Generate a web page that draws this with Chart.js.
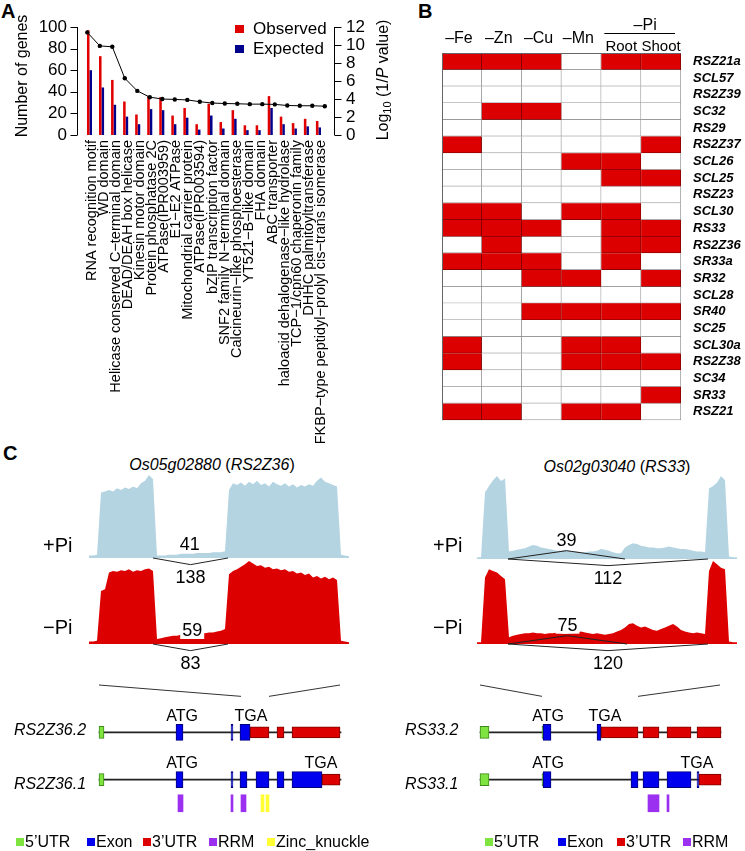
<!DOCTYPE html>
<html lang="en">
<head>
<meta charset="utf-8">
<title>SR genes</title>
<script src="https://cdn.jsdelivr.net/npm/chart.js@4.4.1/dist/chart.umd.min.js"></script>
<style>
  html, body { margin: 0; padding: 0; background: #fff; }
  #figura { position: relative; width: 745px; height: 851px; overflow: hidden;
            font-family: "Liberation Sans", Arial, sans-serif; color: #000; }
  #figura canvas, #figura .txt { position: absolute; }
  .txt { white-space: nowrap; line-height: 1; }
  .letra { font-weight: bold; font-size: 20px; }
  .titulo { font-size: 16px; text-align: center; width: 240px; }
  .cond { font-size: 20px; }
  .iso { font-size: 16px; font-style: italic; }
  .leg { font-size: 16px; }
  .leg b { display: inline-block; width: 8px; height: 8px; margin-right: 1px; vertical-align: 1px; }
</style>
</head>
<body>
<div id="figura">
  <div class="txt letra" style="left:1px;top:1px">A</div>
  <div class="txt letra" style="left:418px;top:1px">B</div>
  <div class="txt letra" style="left:3px;top:443px">C</div>

  <canvas id="chart-a" width="400" height="450" style="left:0;top:0"></canvas>
  <canvas id="chart-b" width="325" height="440" style="left:420px;top:0"></canvas>

  <div class="txt titulo" style="left:92px;top:457px"><i>Os05g02880</i> (<i>RS2Z36</i>)</div>
  <div class="txt titulo" style="left:497px;top:459px"><i>Os02g03040</i> (<i>RS33</i>)</div>

  <canvas id="trilha-rs2z36-mais" width="260" height="124" style="left:89px;top:466px"></canvas>
  <canvas id="trilha-rs2z36-menos" width="260" height="122" style="left:89px;top:550px"></canvas>
  <canvas id="trilha-rs33-mais" width="260" height="124" style="left:477px;top:466px"></canvas>
  <canvas id="trilha-rs33-menos" width="260" height="122" style="left:477px;top:550px"></canvas>

  <div class="txt cond" style="left:43px;top:535px">+Pi</div>
  <div class="txt cond" style="left:43px;top:617px">−Pi</div>
  <div class="txt cond" style="left:433px;top:535px">+Pi</div>
  <div class="txt cond" style="left:433px;top:617px">−Pi</div>

  <canvas id="modelo-rs2z36" width="370" height="173" style="left:0;top:660px"></canvas>
  <canvas id="modelo-rs33" width="375" height="173" style="left:370px;top:660px"></canvas>

  <div class="txt iso" style="left:14px;top:722px">RS2Z36.2</div>
  <div class="txt iso" style="left:14px;top:776px">RS2Z36.1</div>
  <div class="txt iso" style="left:405px;top:722px">RS33.2</div>
  <div class="txt iso" style="left:405px;top:776px">RS33.1</div>

  <div class="txt leg" style="left:16px;top:834px"><b style="background:#7FE340"></b>5’UTR</div>
  <div class="txt leg" style="left:87px;top:834px"><b style="background:#0000EE"></b>Exon</div>
  <div class="txt leg" style="left:143px;top:834px"><b style="background:#DD0000"></b>3’UTR</div>
  <div class="txt leg" style="left:209px;top:834px"><b style="background:#9B30F0"></b>RRM</div>
  <div class="txt leg" style="left:267px;top:834px"><b style="background:#FFFF33"></b>Zinc_knuckle</div>

  <div class="txt leg" style="left:485px;top:834px"><b style="background:#7FE340"></b>5’UTR</div>
  <div class="txt leg" style="left:558px;top:834px"><b style="background:#0000EE"></b>Exon</div>
  <div class="txt leg" style="left:617px;top:834px"><b style="background:#DD0000"></b>3’UTR</div>
  <div class="txt leg" style="left:683px;top:834px"><b style="background:#9B30F0"></b>RRM</div>
</div>

<script>
// ---------- A: domínios enriquecidos ----------
const categorias = [
  'RNA recognition motif', 'WD domain', 'Helicase conserved C−terminal domain',
  'DEAD/DEAH box helicase', 'Kinesin motor domain', 'Protein phosphatase 2C',
  'ATPase(IPR003959)', 'E1−E2 ATPase', 'Mitochondrial carrier protein',
  'ATPase(IPR003594)', 'bZIP transcription factor', 'SNF2 family N−terminal domain',
  'Calcineurin−like phosphoesterase', 'YT521−B−like domain', 'FHA domain',
  'ABC transporter', 'haloacid dehalogenase−like hydrolase', 'TCP−1/cpn60 chaperonin family',
  'DHHC palmitoyltransferase', 'FKBP−type peptidyl−prolyl cis−trans isomerase'
];
const observados = [97, 73, 51, 31, 19, 36, 35, 18, 25, 10, 29, 12, 23, 9, 9, 36, 17, 11, 15, 13];
const esperados  = [60, 44, 28, 17, 10, 24, 23, 10, 16, 5, 18, 6, 15, 4.5, 4.5, 25, 10, 6, 8, 7];
const log10InvP  = [11.4, 9.9, 9.8, 6.3, 4.9, 4.2, 4.0, 3.95, 3.9, 3.7, 3.55, 3.5, 3.47, 3.43, 3.43, 3.4, 3.28, 3.25, 3.25, 3.2];
const ticksGenes = [0, 20, 40, 60, 80, 100];
const ticksLogP  = [0, 2, 4, 6, 8, 10, 12];

// ---------- B: genes SR x condições (1 = vermelho) ----------
const genesSR = ['RSZ21a', 'SCL57', 'RS2Z39', 'SC32', 'RS29', 'RS2Z37', 'SCL26', 'SCL25', 'RSZ23',
  'SCL30', 'RS33', 'RS2Z36', 'SR33a', 'SR32', 'SCL28', 'SR40', 'SC25', 'SCL30a', 'RS2Z38',
  'SC34', 'SR33', 'RSZ21'];
const condicoes = ['–Fe', '–Zn', '–Cu', '–Mn', 'Root', 'Shoot'];
const colFe    = [1,0,0,0,0,1,0,0,0,1,1,0,1,0,0,0,0,1,1,0,0,1];
const colZn    = [1,0,0,1,0,0,0,0,0,1,1,1,1,0,0,0,0,0,0,0,0,1];
const colCu    = [1,0,0,1,0,0,0,0,0,0,1,0,1,1,0,1,0,0,0,0,0,0];
const colMn    = [0,0,0,0,0,0,1,0,0,1,0,0,0,1,0,1,0,1,1,0,0,1];
const colRoot  = [1,0,0,0,0,0,1,1,0,1,1,1,1,0,0,1,0,1,1,0,0,1];
const colShoot = [1,0,0,0,0,1,0,1,0,0,1,1,0,1,0,1,0,0,1,0,1,0];

// ---------- C: cobertura (uma amostra a cada 4 px do traço) ----------
const rs2z36MaisPi = [3,3,4,79,80,82,80,84,82,85,83,86,84,90,93,100,95,3,3,3,4,4,4,5,5,5,5,6,6,6,6,7,7,7,8,
  82,90,88,91,87,92,89,93,88,90,86,92,89,87,90,86,89,85,88,86,89,87,93,97,92,90,88,86,4,3,2];
const rs2z36MenosPi = [3,3,4,64,66,86,88,87,89,88,90,87,89,88,90,91,88,6,7,8,9,10,10,11,11,12,12,12,13,13,14,14,15,16,18,
  84,88,90,93,96,100,97,94,95,92,93,90,91,89,90,87,88,85,86,83,85,80,82,79,81,78,80,77,4,3,2];
const rs33MaisPi = [2,2,80,88,95,100,94,97,
  9,10,11,12,13,15,17,16,14,13,12,11,10,10,11,10,9,9,8,8,9,9,10,12,11,10,8,7,7,14,17,19,18,16,15,14,14,13,13,14,15,14,13,12,12,11,10,9,9,8,
  85,88,92,100,95,3,2,2];
const rs33MenosPi = [2,2,80,90,88,86,82,78,
  8,10,11,12,13,13,14,13,13,12,13,13,14,13,12,13,13,14,15,14,13,12,13,12,11,12,13,15,17,20,24,25,22,20,21,19,17,16,18,20,22,24,21,17,15,14,13,14,13,12,
  88,100,96,92,90,3,2,2];

// junções: [início, fim, leituras, lado (+1 acima, -1 abaixo)]
const juncoesRS2Z36Mais  = [[16, 34.75, 138, -1]];
const juncoesRS2Z36Menos = [[16, 34.75, 83, -1]];
const retidosRS2Z36Mais  = [[25.2, 41]];
const retidosRS2Z36Menos = [[25.8, 59]];
const juncoesRS33Mais  = [[7.75, 37, 39, 1], [7.75, 57.75, 112, -1]];
const juncoesRS33Menos = [[7.75, 37.5, 75, 1], [7.75, 57.75, 120, -1]];

// modelos gênicos (coordenadas relativas ao início do gene)
const rs2z36Comprimento = 242;
const rs2z36_2_utr5  = [[0, 5]];
const rs2z36_2_exons = [[77, 84], [132, 134], [141, 151]];
const rs2z36_2_utr3  = [[151, 170], [178, 185], [193, 241]];
const rs2z36_1_utr5  = [[0, 5]];
const rs2z36_1_exons = [[77, 84], [132, 134], [141, 148], [157, 170], [178, 185], [193, 223]];
const rs2z36_1_utr3  = [[223, 241]];
const rs2z36_rrm     = [[79, 84], [132, 134], [142, 147]];
const rs2z36_zinc    = [[162, 165], [167, 170]];
const rs2z36_codons  = [['ATG', 0, 83], ['TGA', 0, 152], ['ATG', 1, 83], ['TGA', 1, 222]];
const rs2z36_zoom    = [[0, 142], [241, 170]];

const rs33Comprimento = 241;
const rs33_2_utr5  = [[0, 9], [62, 64]];
const rs33_2_exons = [[63, 71], [117, 121]];
const rs33_2_utr3  = [[121, 158], [163, 179], [187, 211], [217, 241]];
const rs33_1_utr5  = [[0, 9], [62, 64]];
const rs33_1_exons = [[63, 71], [151, 158], [163, 179], [187, 211], [217, 219]];
const rs33_1_utr3  = [[219, 241]];
const rs33_rrm     = [[168, 179], [187, 189]];
const rs33_codons  = [['ATG', 0, 68], ['TGA', 0, 125], ['ATG', 1, 68], ['TGA', 1, 217]];
const rs33_zoom    = [[0, 62], [240, 158]];

const FONTE = '"Liberation Sans", Arial, sans-serif';
const VERMELHO = '#DD0000';
const AZUL_CLARO = '#B4D4E2';
const VERDE = '#7FE340';
const AZUL = '#0000EE';
const ROXO = '#9B30F0';
const AMARELO = '#FFFF33';

Chart.defaults.font.family = FONTE;
Chart.defaults.color = '#000';
Chart.defaults.animation = false;
Chart.defaults.responsive = false;
Chart.defaults.events = [];
Chart.defaults.plugins.legend.display = false;
Chart.defaults.plugins.tooltip.enabled = false;

// Chart.js desenha o dataset 0 por cima; aqui o último da lista fica por cima
function empilharNaOrdem(datasets) {
  datasets.forEach((ds, i) => { ds.order = datasets.length - i; });
  return datasets;
}

// ---------- Painel A ----------
const eixosA = {
  id: 'eixosA',
  afterDraw(chart) {
    const { ctx } = chart;
    const y = chart.scales.y, y1 = chart.scales.y1;
    ctx.save();
    ctx.strokeStyle = '#000';
    ctx.fillStyle = '#000';
    ctx.lineWidth = 1;

    // eixo esquerdo
    const xl = 77.5;
    ctx.beginPath();
    ctx.moveTo(xl, y.getPixelForValue(0));
    ctx.lineTo(xl, y.getPixelForValue(100));
    ticksGenes.forEach(t => {
      const py = Math.round(y.getPixelForValue(t)) + 0.5;
      ctx.moveTo(xl, py); ctx.lineTo(xl - 7, py);
    });
    // eixo direito
    const xr = 334.5;
    ctx.moveTo(xr, y1.getPixelForValue(0));
    ctx.lineTo(xr, y1.getPixelForValue(12));
    ticksLogP.forEach(t => {
      const py = Math.round(y1.getPixelForValue(t)) + 0.5;
      ctx.moveTo(xr, py); ctx.lineTo(xr + 7, py);
    });
    ctx.stroke();

    ctx.font = '17px ' + FONTE;
    ctx.textBaseline = 'middle';
    ctx.textAlign = 'right';
    ticksGenes.forEach(t => ctx.fillText(String(t), 67, y.getPixelForValue(t)));
    ctx.textAlign = 'left';
    ticksLogP.forEach(t => ctx.fillText(String(t), 346, y1.getPixelForValue(t)));

    // título esquerdo
    ctx.save();
    ctx.translate(23, 76);
    ctx.rotate(-Math.PI / 2);
    ctx.textAlign = 'center';
    ctx.font = '16px ' + FONTE;
    ctx.fillText('Number of genes', 0, 0);
    ctx.restore();

    // título direito: Log10 (1/P value)
    ctx.save();
    ctx.translate(384, 80);
    ctx.rotate(-Math.PI / 2);
    const partes = [
      ['Log', '16px ' + FONTE, 0],
      ['10', '11px ' + FONTE, 4],
      [' (1/', '16px ' + FONTE, 0],
      ['P', 'italic 16px ' + FONTE, 0],
      [' value)', '16px ' + FONTE, 0]
    ];
    let total = 0;
    partes.forEach(p => { ctx.font = p[1]; total += ctx.measureText(p[0]).width; });
    let px = -total / 2;
    ctx.textAlign = 'left';
    partes.forEach(p => {
      ctx.font = p[1];
      ctx.fillText(p[0], px, p[2]);
      px += ctx.measureText(p[0]).width;
    });
    ctx.restore();

    // legenda
    ctx.font = '17px ' + FONTE;
    ctx.textAlign = 'left';
    chart.data.datasets.slice(0, 2).forEach((ds, i) => {
      ctx.fillStyle = ds.backgroundColor;
      ctx.fillRect(235, 25 + i * 20, 9, 8);
      ctx.fillStyle = '#000';
      ctx.fillText(ds.label, 253, 29.5 + i * 20);
    });
    ctx.restore();
  }
};

new Chart(document.getElementById('chart-a'), {
  data: {
    labels: categorias,
    datasets: [
      { type: 'bar', label: 'Observed', data: observados, backgroundColor: '#E00000',
        barPercentage: 1, categoryPercentage: 0.84, yAxisID: 'y', xAxisID: 'x', order: 2 },
      { type: 'bar', label: 'Expected', data: esperados, backgroundColor: '#00008C',
        barPercentage: 1, categoryPercentage: 0.84, yAxisID: 'y', xAxisID: 'x', order: 2 },
      { type: 'line', label: 'log10(1/P)', data: log10InvP.map((v, i) => ({ x: i, y: v })),
        xAxisID: 'x2', yAxisID: 'y1', borderColor: '#000', borderWidth: 1,
        pointRadius: 2.2, pointBackgroundColor: '#000', pointBorderWidth: 0, order: 1, clip: false }
    ]
  },
  options: {
    layout: { padding: { left: 86, right: 73, top: 27, bottom: 0 } },
    scales: {
      x: {
        type: 'category',
        grid: { display: false, drawTicks: false },
        border: { display: false },
        ticks: { autoSkip: false, minRotation: 90, maxRotation: 90, padding: 5, color: '#000',
                 font: { size: 14.5 } },
        afterFit: s => { s.height = 315; }
      },
      x2: { type: 'linear', display: false, min: -0.104, max: 19.176 },
      y: { display: false, min: 0, max: 100 },
      y1: { display: false, min: 0, max: 12 }
    }
  },
  plugins: [eixosA]
});

// ---------- Painel B ----------
const colunasB = [colFe, colZn, colCu, colMn, colRoot, colShoot];

const cabecalhoB = {
  id: 'cabecalhoB',
  afterDraw(chart) {
    const { ctx, chartArea: a } = chart;
    const x = chart.scales.x;
    ctx.save();
    ctx.strokeStyle = '#666';
    ctx.lineWidth = 1;
    ctx.beginPath();
    ctx.moveTo(a.left + 0.5, a.bottom); ctx.lineTo(a.left + 0.5, a.top + 0.5); ctx.lineTo(a.right, a.top + 0.5);
    ctx.stroke();

    ctx.fillStyle = '#000';
    ctx.textAlign = 'center';
    ctx.textBaseline = 'middle';
    condicoes.forEach((c, i) => {
      const pi = i >= 4;
      ctx.font = (pi ? '15px ' : '16px ') + FONTE;
      ctx.fillText(c, x.getPixelForValue(i + 0.5) - (pi ? 0 : 3), pi ? 47 : 39);
    });
    const x0 = x.getPixelForValue(4), x1 = x.getPixelForValue(6);
    ctx.font = '16px ' + FONTE;
    ctx.fillText('–Pi', (x0 + x1) / 2 + 4, 26);
    ctx.strokeStyle = '#000';
    ctx.beginPath();
    ctx.moveTo(x0 + 3, 33.5); ctx.lineTo(x1 - 6, 33.5);
    ctx.stroke();
    ctx.restore();
  }
};

new Chart(document.getElementById('chart-b'), {
  type: 'bar',
  data: {
    labels: genesSR,
    datasets: empilharNaOrdem(colunasB.map((col, c) => ({
      label: condicoes[c],
      data: col.map(() => [c, c + 1]),
      backgroundColor: col.map(v => v ? VERMELHO : '#FFFFFF'),
      borderColor: col.map(v => v ? '#6E0000' : '#8C8C8C'),
      borderWidth: { top: 0, left: 0, right: 1, bottom: 1 },
      borderSkipped: false,
      grouped: false,
      barPercentage: 1,
      categoryPercentage: 1
    })))
  },
  options: {
    indexAxis: 'y',
    layout: { padding: { left: 22, top: 53, bottom: 17, right: 0 } },
    scales: {
      x: { type: 'linear', display: false, min: 0, max: 6 },
      y: {
        type: 'category', position: 'right', offset: true,
        grid: { display: false, drawTicks: false },
        border: { display: false },
        ticks: { autoSkip: false, padding: 12, color: '#000',
                 font: { size: 13, style: 'italic', weight: 'bold' } },
        afterFit: s => { s.width = 64; }
      }
    }
  },
  plugins: [cabecalhoB]
});

// ---------- Painel C: trilhas de cobertura ----------
const PX_POR_UNIDADE = 0.83;

function escreveNumero(ctx, texto, x, y, fundo) {
  if (fundo) {
    const w = ctx.measureText(texto).width;
    ctx.fillStyle = '#fff';
    ctx.fillRect(x - w / 2 - 2, y - 8, w + 4, 16);
  }
  ctx.fillStyle = '#000';
  ctx.fillText(texto, x, y);
}

function montarTrilha(id, valores, cor, juncoes, retidos, base, fundoBranco) {
  const canvas = document.getElementById(id);
  const topo = parseFloat(canvas.style.top);
  const max = (base - topo) / PX_POR_UNIDADE;
  const min = -(topo + canvas.height - base) / PX_POR_UNIDADE;
  const prof = { '1': 10, '-1': 8 };

  const rotulos = {
    id: 'rotulos-' + id,
    afterDatasetsDraw(chart) {
      const { ctx } = chart;
      const x = chart.scales.x, y = chart.scales.y;
      ctx.save();
      ctx.font = '18px ' + FONTE;
      ctx.textAlign = 'center';
      ctx.textBaseline = 'middle';
      juncoes.forEach(([s, e, n, lado]) => {
        const py = y.getPixelForValue(lado * prof[lado]) + (lado > 0 ? -10 : 13);
        escreveNumero(ctx, String(n), x.getPixelForValue((s + e) / 2), py, fundoBranco && lado > 0);
      });
      retidos.forEach(([pos, n]) => {
        escreveNumero(ctx, String(n), x.getPixelForValue(pos), y.getPixelForValue(0) - 13, fundoBranco);
      });
      ctx.restore();
    }
  };

  const datasets = [{
    label: 'coverage',
    data: valores.map((v, i) => ({ x: i, y: v })),
    fill: 'origin',
    backgroundColor: cor,
    borderColor: cor,
    borderWidth: 0,
    pointRadius: 0,
    tension: 0
  }];
  juncoes.forEach(([s, e, n, lado]) => {
    datasets.push({
      label: 'junction ' + n,
      data: [{ x: s, y: 0 }, { x: (s + e) / 2, y: lado * prof[lado] }, { x: e, y: 0 }],
      fill: false,
      borderColor: '#222',
      borderWidth: 1,
      pointRadius: 0,
      tension: 0
    });
  });

  new Chart(canvas, {
    type: 'line',
    data: { datasets: empilharNaOrdem(datasets) },
    options: {
      layout: { padding: 0 },
      scales: {
        x: { type: 'linear', display: false, min: 0, max: valores.length - 1 },
        y: { type: 'linear', display: false, min, max }
      }
    },
    plugins: [rotulos]
  });
}

montarTrilha('trilha-rs2z36-mais', rs2z36MaisPi, AZUL_CLARO, juncoesRS2Z36Mais, retidosRS2Z36Mais, 558, false);
montarTrilha('trilha-rs2z36-menos', rs2z36MenosPi, VERMELHO, juncoesRS2Z36Menos, retidosRS2Z36Menos, 644, true);
montarTrilha('trilha-rs33-mais', rs33MaisPi, AZUL_CLARO, juncoesRS33Mais, [], 559, false);
montarTrilha('trilha-rs33-menos', rs33MenosPi, VERMELHO, juncoesRS33Menos, [], 644, true);

// ---------- Painel C: modelos gênicos ----------
function intervalos(lista, linha) {
  return lista.map(([a, b]) => ({ x: [a, b], y: linha }));
}

function barra(label, data, cor, borda, espessura) {
  return {
    type: 'bar', label, data, indexAxis: 'y', grouped: false,
    backgroundColor: cor, borderColor: borda || cor, borderWidth: borda ? 1 : 0,
    borderSkipped: false, barThickness: espessura, clip: false
  };
}

function montarModelo(id, comprimento, iso2, iso1, dominios, zooms, codons, padL, padR) {
  const rotulos = {
    id: 'codons-' + id,
    afterDatasetsDraw(chart) {
      const { ctx } = chart;
      const x = chart.scales.x, y = chart.scales.y;
      ctx.save();
      ctx.font = '16px ' + FONTE;
      ctx.fillStyle = '#000';
      ctx.textAlign = 'center';
      ctx.textBaseline = 'middle';
      codons.forEach(([txt, linha, pos]) => ctx.fillText(txt, x.getPixelForValue(pos), y.getPixelForValue(linha) - 16));
      ctx.restore();
    }
  };

  const datasets = [
    barra('intron', [{ x: [0, comprimento], y: 0 }, { x: [0, comprimento], y: 1 }], '#222', null, 1.2),
    barra('5’UTR', [...intervalos(iso2[0], 0), ...intervalos(iso1[0], 1)], VERDE, '#3C8A1A', 12),
    barra('Exon', [...intervalos(iso2[1], 0), ...intervalos(iso1[1], 1)], AZUL, '#00007A', 16),
    barra('3’UTR', [...intervalos(iso2[2], 0), ...intervalos(iso1[2], 1)], VERMELHO, '#7A0000', 11),
    ...dominios.map(([nome, lista, cor]) => barra(nome, intervalos(lista, 1.5), cor, null, 17)),
    ...zooms.map(([topo, gene]) => ({
      type: 'line', label: 'zoom', indexAxis: 'x',
      data: [{ x: topo, y: -1 }, { x: gene, y: -0.76 }],
      borderColor: '#333', borderWidth: 1, pointRadius: 0, fill: false, clip: false
    }))
  ];

  new Chart(document.getElementById(id), {
    type: 'bar',
    data: { datasets: empilharNaOrdem(datasets) },
    options: {
      indexAxis: 'y',
      layout: { padding: { left: padL, right: padR, top: 0, bottom: 0 } },
      scales: {
        x: { type: 'linear', display: false, min: 0, max: comprimento },
        y: { type: 'linear', display: false, min: -1.3, max: 1.9, reverse: true }
      }
    },
    plugins: [rotulos]
  });
}

montarModelo('modelo-rs2z36', rs2z36Comprimento,
  [rs2z36_2_utr5, rs2z36_2_exons, rs2z36_2_utr3],
  [rs2z36_1_utr5, rs2z36_1_exons, rs2z36_1_utr3],
  [['RRM', rs2z36_rrm, ROXO], ['Zinc_knuckle', rs2z36_zinc, AMARELO]],
  rs2z36_zoom, rs2z36_codons, 99, 29);

montarModelo('modelo-rs33', rs33Comprimento,
  [rs33_2_utr5, rs33_2_exons, rs33_2_utr3],
  [rs33_1_utr5, rs33_1_exons, rs33_1_utr3],
  [['RRM', rs33_rrm, ROXO]],
  rs33_zoom, rs33_codons, 110, 24);
</script>
</body>
</html>
